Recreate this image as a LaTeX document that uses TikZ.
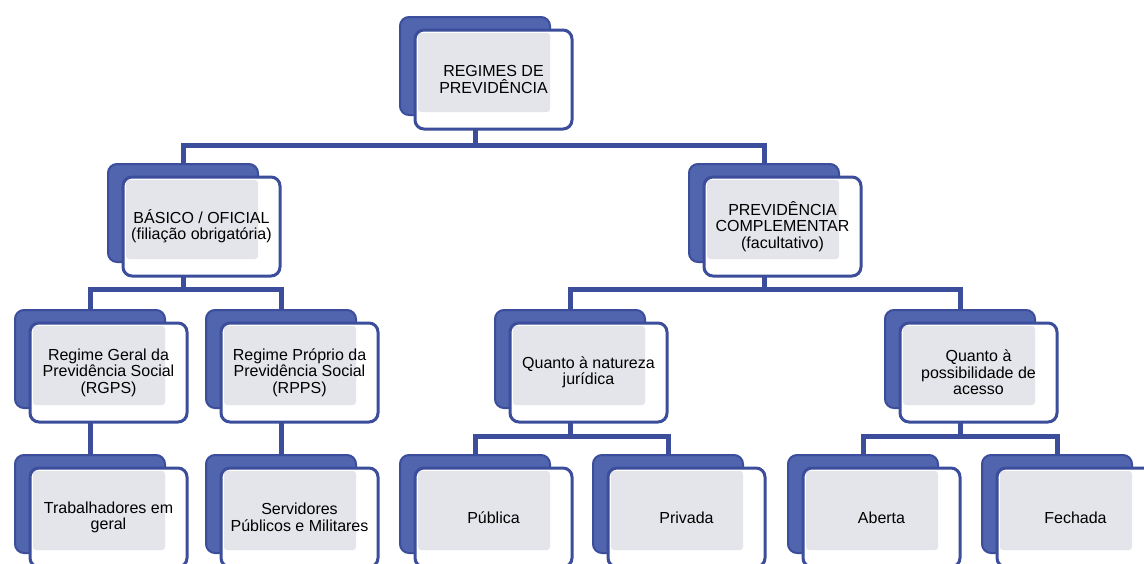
\documentclass[tikz,border=0pt]{standalone}
\usepackage{fontspec}
\setmainfont{Liberation Sans}
\definecolor{backblue}{HTML}{5065AE}
\definecolor{edgeblue}{HTML}{3B4D9B}
\definecolor{innergray}{HTML}{E4E5EA}
\tikzset{
  backbox/.style={draw=edgeblue, line width=2pt, fill=backblue, rounded corners=9pt,
    minimum width=150pt, minimum height=98pt, anchor=north west, inner sep=0pt, outer sep=0pt},
  frontbox/.style={draw=edgeblue, line width=3pt, fill=white, rounded corners=9pt,
    minimum width=157pt, minimum height=99pt, anchor=north west, inner sep=0pt, outer sep=0pt,
    path picture={\fill[innergray, rounded corners=3pt]
      ([shift={(3pt,-3pt)}]path picture bounding box.north west) rectangle
      ([shift={(135pt,-82pt)}]path picture bounding box.north west);}},
  boxtext/.style={font=\fontsize{16}{16.5}\selectfont, align=center, text=black, inner sep=0pt},
  conn/.style={draw=edgeblue, line width=5pt}
}
\newcommand\orgbox[4]{%
  \node[backbox] (b#1) at (#2,#3) {};
  \node[frontbox] (f#1) at (#2+15,#3+13) {};
  \node[boxtext] (t#1) at (f#1.center) {#4};
}
\begin{document}
\begin{tikzpicture}[x=1pt,y=-1pt]
\useasboundingbox (0,0) rectangle (1144,563);
\fill[white] (0,0) rectangle (1144,563);
\clip (0,0) rectangle (1144,563);
% level 1
\orgbox{R}{400}{17}{REGIMES DE\\PREVIDÊNCIA}
% level 2
\orgbox{A}{108}{164}{BÁSICO / OFICIAL\\(filiação obrigatória)}
\orgbox{B}{689}{164}{PREVIDÊNCIA\\COMPLEMENTAR\\(facultativo)}
% level 3
\orgbox{Aa}{15}{310}{Regime Geral da\\Previdência Social\\(RGPS)}
\orgbox{Ab}{206}{310}{Regime Próprio da\\Previdência Social\\(RPPS)}
\orgbox{Ba}{495}{310}{Quanto à natureza\\jurídica}
\orgbox{Bb}{885}{310}{Quanto à\\possibilidade de\\acesso}
% level 4
\orgbox{Aax}{15}{455}{Trabalhadores em\\geral}
\orgbox{Abx}{206}{455}{Servidores\\Públicos e Militares}
\orgbox{Baa}{400}{455}{Pública}
\orgbox{Bab}{593}{455}{Privada}
\orgbox{Bba}{788}{455}{Aberta}
\orgbox{Bbb}{982}{455}{Fechada}
% connectors
\draw[conn] (bR.center |- fR.south) -- ++(0,16) coordinate (jR);
\draw[conn] (bA.north) |- (jR) -| (bB.north);
\draw[conn] (bA.center |- fA.south) -- ++(0,13) coordinate (jA);
\draw[conn] (bAa.north) |- (jA) -| (bAb.north);
\draw[conn] (bB.center |- fB.south) -- ++(0,13) coordinate (jB);
\draw[conn] (bBa.north) |- (jB) -| (bBb.north);
\draw[conn] (bAa.center |- fAa.south) -- (bAax.north);
\draw[conn] (bAb.center |- fAb.south) -- (bAbx.north);
\draw[conn] (bBa.center |- fBa.south) -- ++(0,14) coordinate (jBa);
\draw[conn] (bBaa.north) |- (jBa) -| (bBab.north);
\draw[conn] (bBb.center |- fBb.south) -- ++(0,14) coordinate (jBb);
\draw[conn] (bBba.north) |- (jBb) -| (bBbb.north);
\end{tikzpicture}
\end{document}
